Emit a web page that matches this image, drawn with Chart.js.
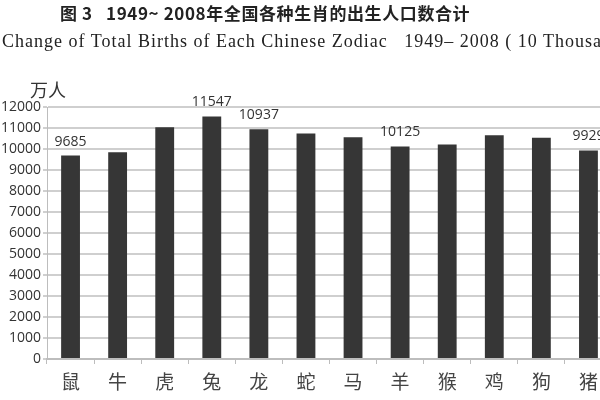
<!DOCTYPE html>
<html>
<head>
<meta charset="utf-8">
<script src="https://cdn.jsdelivr.net/npm/chart.js@4"></script>
<style>
  html, body { margin: 0; padding: 0; background: #fff; overflow: hidden; }
  #page { position: relative; width: 600px; height: 400px; overflow: hidden; }
  #box { position: absolute; left: 0; top: 0; width: 620px; height: 400px; }
  .title { position: absolute; left: 60px; top: 0px; font: bold 17px "Noto Sans CJK SC", "Liberation Serif", serif; color: #222; white-space: pre; letter-spacing: 0.6px; }
  .sub { position: absolute; left: 2px; top: 31px; font: 18px "Liberation Serif", serif; color: #222; white-space: pre; letter-spacing: 1px; }
  .unit { position: absolute; left: 30px; top: 76px; font: 18px "Noto Sans CJK SC", sans-serif; color: #333; }
</style>
</head>
<body>
<div id="page">
  <div id="box"><canvas id="zodiac"></canvas></div>
  <div class="title">图 3   1949~ 2008年全国各种生肖的出生人口数合计</div>
  <div class="sub">Change of Total Births of Each Chinese Zodiac   1949– 2008 ( 10 Thousand)</div>
  <div class="unit">万人</div>
</div>
<script>
const animals = ['鼠', '牛', '虎', '兔', '龙', '蛇', '马', '羊', '猴', '鸡', '狗', '猪']
const births = [9685, 9840, 11040, 11547, 10937, 10740, 10560, 10125, 10210, 10660, 10530, 9929]
// only some bars carry a number in the original
const labelled = [true, false, false, true, true, false, false, true, false, false, false, true]
const yTicks = [0, 1000, 2000, 3000, 4000, 5000, 6000, 7000, 8000, 9000, 10000, 11000, 12000]

const valueLabels = {
    id: 'valueLabels',
    afterDatasetsDraw(chart) {
        const ctx = chart.ctx
        const meta = chart.getDatasetMeta(0)
        ctx.save()
        ctx.font = '14px "Open Sans", sans-serif'
        ctx.fillStyle = '#333'
        ctx.textAlign = 'center'
        ctx.textBaseline = 'middle'
        meta.data.forEach((bar, i) => {
            if (labelled[i]) ctx.fillText(String(births[i]), bar.x, bar.y - 14)
        })
        ctx.restore()
    }
}

const ctx = document.getElementById('zodiac').getContext('2d')

const zodiacChart = new Chart(ctx, {
    type: 'bar',
    data: {
        labels: animals,
        datasets: [{
            label: '出生人口',
            data: births,
            backgroundColor: '#363636',
            barPercentage: 0.4,
            categoryPercentage: 1
        }]
    },
    options: {
        responsive: true,
        maintainAspectRatio: false,
        animation: false,
        layout: { padding: { top: 107, right: 8, bottom: 4, left: 0 } },
        plugins: {
            legend: { display: false },
            tooltip: { enabled: false }
        },
        scales: {
            y: {
                min: 0,
                max: 12000,
                afterBuildTicks: s => { s.ticks = yTicks.map(v => ({ value: v })) },
                afterFit: s => { s.width = 47 },
                grid: { color: '#cfcfcf', lineWidth: 2, tickLength: 4 },
                border: { color: '#bdbdbd', width: 1 },
                ticks: {
                    color: '#333',
                    font: { family: 'Open Sans', size: 14 },
                    padding: 2,
                    callback: v => String(v)
                }
            },
            x: {
                afterFit: s => { s.height = 37 },
                grid: { display: true, drawOnChartArea: false, color: '#bdbdbd', tickLength: 5, offset: true },
                border: { color: '#bdbdbd', width: 2 },
                ticks: { color: '#444', font: { family: 'Noto Sans CJK SC', size: 19 }, padding: 6 }
            }
        }
    },
    plugins: [valueLabels]
})
</script>
</body>
</html>
